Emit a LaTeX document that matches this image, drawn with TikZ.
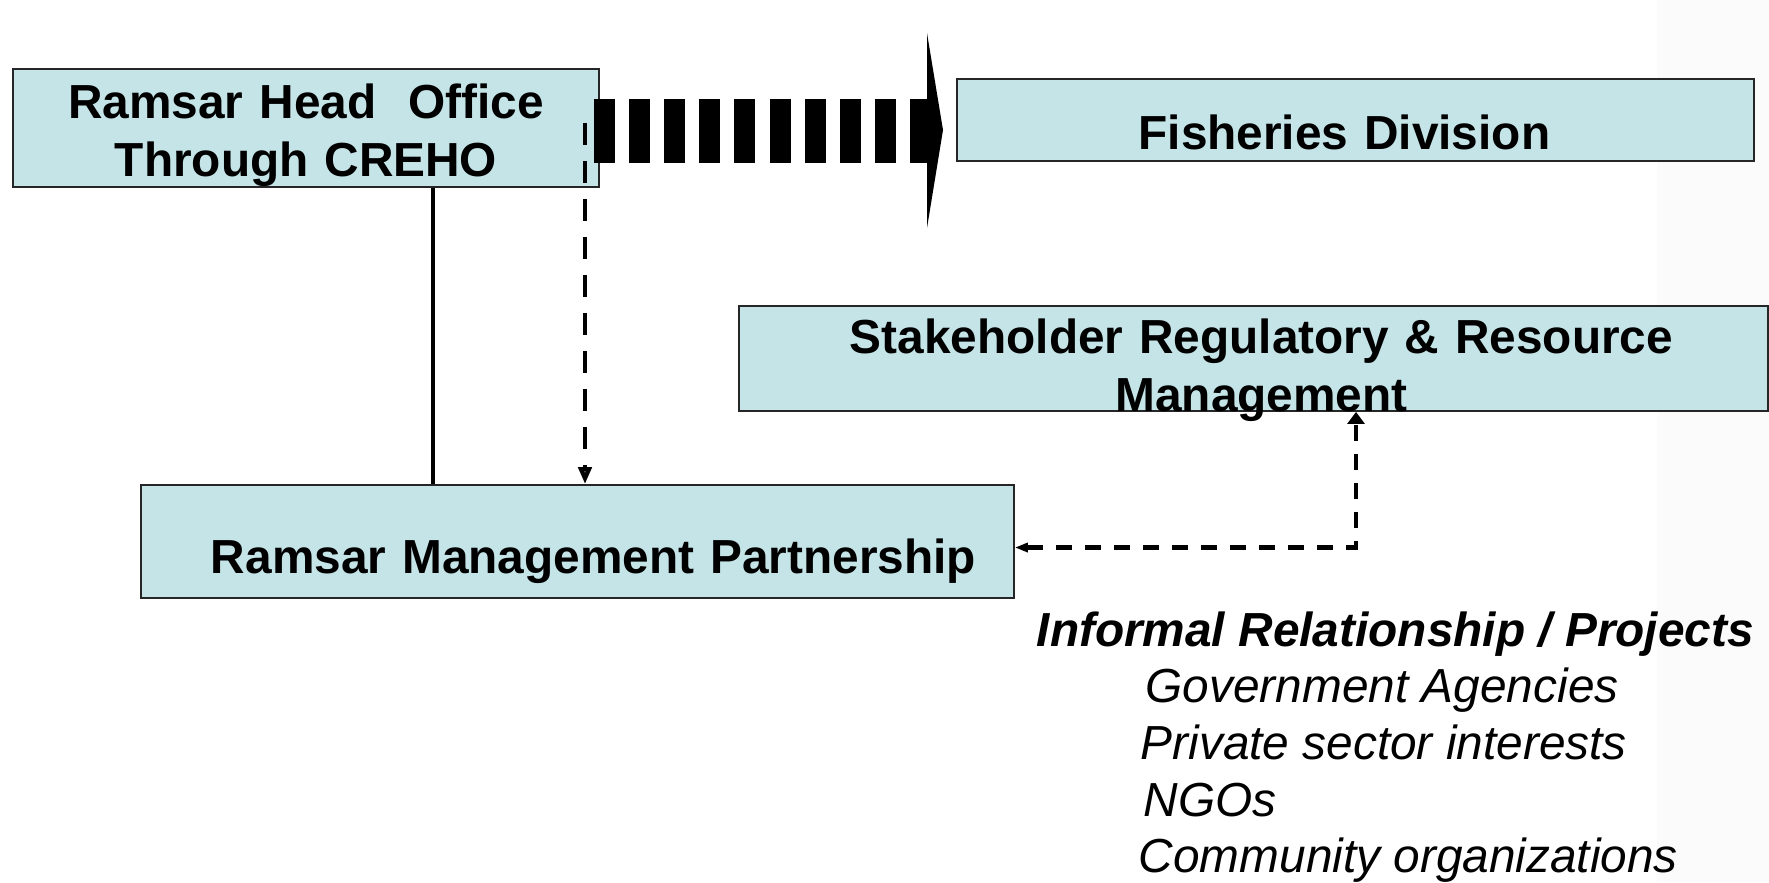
\documentclass[tikz,border=0pt]{standalone}
\usepackage{fontspec}
\setmainfont{Liberation Sans}
\usetikzlibrary{arrows.meta,positioning}
\definecolor{boxcyan}{RGB}{196,228,231}
\definecolor{stripgray}{RGB}{251,251,251}
\tikzset{
  orgbox/.style={draw=black!85, line width=0.5pt, fill=boxcyan, inner sep=0.05cm,
    font=\fontsize{13.6}{16.5}\selectfont\bfseries},
  linkline/.style={line width=1.1pt},
  longdash/.style={line width=1.3pt, dash pattern=on 0.22cm off 0.16cm},
  shortdash/.style={line width=1.2pt, dash pattern=on 0.16cm off 0.13cm},
}

\begin{document}
\begin{tikzpicture}
\useasboundingbox (0,0) rectangle (17.69,-8.82);
% faint backdrop strip on the right
\fill[stripgray] (16.57,0) rectangle (17.69,-8.82);

% Boxes
\node[orgbox, minimum width=5.855cm, minimum height=1.18cm, align=center, text width=5.6cm,
  text height=0.35cm, text depth=0.55cm] (head) at (3.06,-1.28) {Ramsar Head\ \ Office\\Through CREHO};
\node[orgbox, minimum width=7.97cm, minimum height=0.82cm, align=left, text width=7.7cm,
  text height=0.58cm, text depth=0cm] (fish) at (13.555,-1.20) {\hspace*{1.68cm}Fisheries Division};
\node[orgbox, minimum width=10.29cm, minimum height=1.05cm, align=center, text width=10cm,
  text height=0.35cm, text depth=0.46cm] (stake) at (12.535,-3.585) {\hspace*{0.16cm}Stakeholder Regulatory \& Resource\\\hspace*{0.16cm}Management};
\node[orgbox, minimum width=8.73cm, minimum height=1.13cm, align=right, text width=7.97cm,
  text height=0.64cm, text depth=0cm] (part) at (5.775,-5.415) {Ramsar Management Partnership};

% Informal list
\node[anchor=north west, inner sep=0pt, align=left, font=\fontsize{13.6}{16.1}\selectfont\itshape]
  (informal) at (10.36,-6.11) {\textbf{Informal Relationship / Projects}\\
  \hspace*{1.09cm}Government Agencies\\
  \hspace*{1.04cm}Private sector interests\\
  \hspace*{1.07cm}NGOs\\
  \hspace*{1.02cm}Community organizations};

% Striped block arrow to Fisheries
\coordinate (arrbase) at (9.27,-1.31);
\coordinate (arrtip) at (9.43,-1.30);
\draw[line width=0.64cm, dash pattern=on 0.21cm off 0.142cm] ([xshift=-0.06cm,yshift=-0.03cm]head.east) -- (arrbase);
\fill ([yshift=0.98cm]arrbase) -- (arrtip) -- ([yshift=-0.97cm]arrbase) -- cycle;

% Solid link
\coordinate (solidtop) at ([xshift=1.27cm]head.south);
\draw[linkline] (solidtop) -- (solidtop |- part.north);

% Dashed links
\coordinate (dashtop) at ([xshift=2.79cm,yshift=0.05cm]head.center);
\draw[longdash, -{Triangle[open, length=0.17cm, width=0.13cm]}] (dashtop) -- (dashtop |- part.north);
\draw[shortdash, {Triangle[length=0.13cm, width=0.09cm]}-{Triangle[length=0.12cm, width=0.17cm]}]
  ([yshift=-0.06cm]part.east) -| ([xshift=1.025cm]stake.south);
\end{tikzpicture}
\end{document}
